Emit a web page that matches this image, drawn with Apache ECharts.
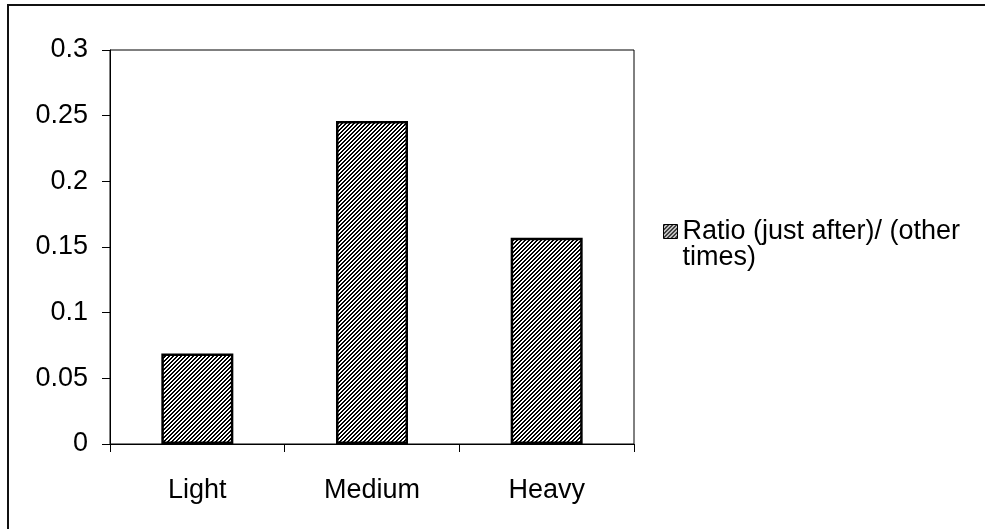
<!DOCTYPE html>
<html>
<head>
<meta charset="utf-8">
<script src="https://cdn.jsdelivr.net/npm/echarts@6/dist/echarts.min.js"></script>
<style>
  html, body { margin: 0; padding: 0; background: #fff; }
  #chart { width: 985px; height: 529px; }
</style>
</head>
<body>
<div id="chart"></div>
<script>
// Traffic categories and the ratio of (just after) to (other times)
const categories = ['Light', 'Medium', 'Heavy'];
const ratioValues = [0.069, 0.246, 0.157];
const seriesName = 'Ratio (just after)/ (other times)';
const yTicks = { min: 0, max: 0.3, interval: 0.05 };

// Diagonal hatch fill ("/" stripes), black on white
function makeHatch() {
  const c = document.createElement('canvas');
  c.width = 4; c.height = 4;
  const ctx = c.getContext('2d');
  ctx.fillStyle = '#fff';
  ctx.fillRect(0, 0, 4, 4);
  ctx.fillStyle = '#000';
  for (let x = 0; x < 4; x++) {
    for (let y = 0; y < 4; y++) {
      const k = (x + y) % 4;
      if (k === 0 || k === 1) ctx.fillRect(x, y, 1, 1);
    }
  }
  return c;
}
const hatch = { image: makeHatch(), repeat: 'repeat' };

const font = '"Liberation Sans", Arial, sans-serif';
const fontSize = 27;
const chart = echarts.init(document.getElementById('chart'), null, { renderer: 'canvas' });

chart.setOption({
  animation: false,
  backgroundColor: '#fff',
  graphic: [{
    type: 'rect',
    shape: { x: 8, y: 5, width: 1000, height: 600 },
    style: { fill: 'none', stroke: '#111', lineWidth: 2 },
    silent: true
  }],
  grid: {
    left: 110, top: 50, right: 351, bottom: 85,
    show: true, borderColor: '#000', borderWidth: 1, backgroundColor: 'transparent'
  },
  legend: {
    left: 658, top: 187,
    orient: 'vertical',
    icon: 'rect',
    itemWidth: 14, itemHeight: 14,
    data: [seriesName],
    // leading spacer line keeps the swatch level with the first text line
    formatter: () => '{s| }\n{t|Ratio (just after)/ (other}\n{t|times)}',
    textStyle: {
      color: '#000', fontFamily: font, fontSize: fontSize,
      rich: {
        s: { fontSize: fontSize, lineHeight: 26 },
        t: { color: '#000', fontFamily: font, fontSize: fontSize, lineHeight: 26 }
      }
    },
    itemStyle: { borderColor: '#000', borderWidth: 1 }
  },
  xAxis: {
    type: 'category',
    data: categories,
    axisLine: { lineStyle: { color: '#000', width: 1 } },
    axisTick: { show: true, length: 8, lineStyle: { color: '#000' } },
    axisLabel: { color: '#000', fontFamily: font, fontSize: fontSize, margin: 33 },
    splitLine: { show: false }
  },
  yAxis: {
    type: 'value',
    min: yTicks.min, max: yTicks.max, interval: yTicks.interval,
    axisLine: { show: true, lineStyle: { color: '#000', width: 1 } },
    axisTick: { show: true, length: 8, lineStyle: { color: '#000' } },
    axisLabel: { color: '#000', fontFamily: font, fontSize: fontSize, margin: 22 },
    splitLine: { show: false }
  },
  series: [{
    name: seriesName,
    type: 'bar',
    data: ratioValues,
    barWidth: 72,
    itemStyle: { color: hatch, borderColor: '#000', borderWidth: 2.5 }
  }]
});
</script>
</body>
</html>
